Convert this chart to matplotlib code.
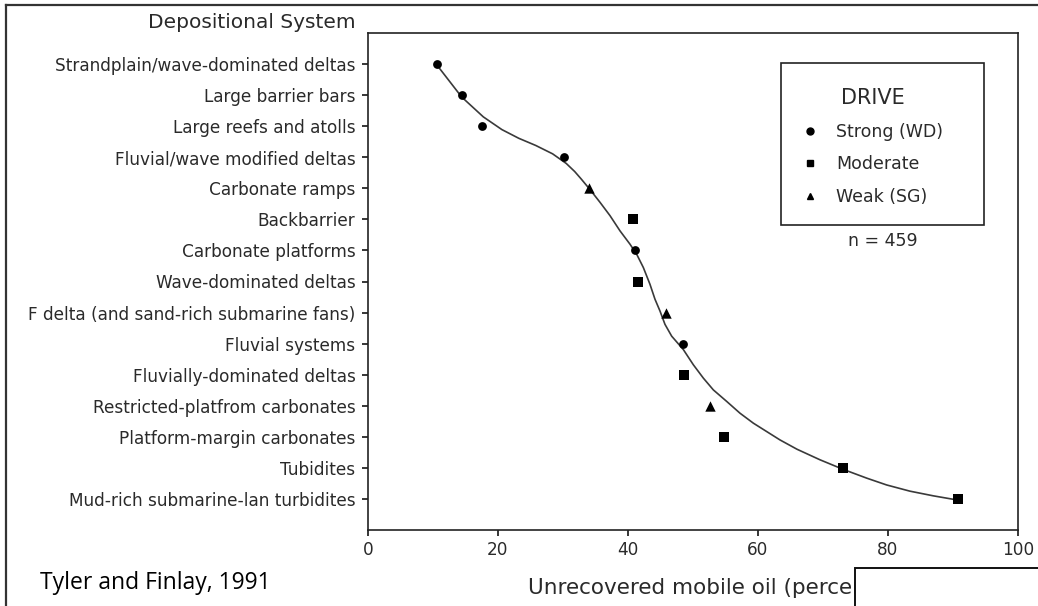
import matplotlib.pyplot as plt
from matplotlib.lines import Line2D
from matplotlib.patches import Rectangle

plt.rcParams['font.family'] = ['DejaVu Sans']

# Depositional systems, top to bottom
systems = ['Strandplain/wave-dominated deltas', 'Large barrier bars', 'Large reefs and atolls',
           'Fluvial/wave modified deltas', 'Carbonate ramps', 'Backbarrier',
           'Carbonate platforms', 'Wave-dominated deltas', 'F delta (and sand-rich submarine fans)',
           'Fluvial systems', 'Fluvially-dominated deltas', 'Restricted-platfrom carbonates',
           'Platform-margin carbonates', 'Tubidites', 'Mud-rich submarine-lan turbidites']
drive = ['Strong', 'Strong', 'Strong', 'Strong', 'Weak', 'Moderate', 'Strong', 'Moderate',
         'Weak', 'Strong', 'Moderate', 'Weak', 'Moderate', 'Moderate', 'Moderate']
unrecovered = [10.6, 14.4, 17.5, 30.1, 34.0, 40.7, 41.0, 41.5, 45.8, 48.5, 48.6, 52.6, 54.7, 73.1, 90.8]

# trend curve (x in percent, y in category index)
curve_x = [10.6, 14.41, 17.74, 20.6, 23.2, 25.8, 28.4, 30.5, 31.8, 32.8, 34.15, 35.69,
           37.23, 38.77, 40.31, 41.33, 42.36, 43.38, 44.15, 44.92, 45.69, 46.72, 48.51, 50.05,
           51.59, 53.13, 55.18, 57.23, 59.28, 61.33, 63.38, 66.0, 69.54, 73.13, 76.72, 79.79,
           83.38, 86.97, 90.82]
curve_y = [0.03, 1.06, 1.70, 2.11, 2.39, 2.62, 2.89, 3.2, 3.46, 3.70, 4.04, 4.45,
           4.88, 5.37, 5.80, 6.12, 6.55, 7.09, 7.57, 7.95, 8.38, 8.76, 9.19, 9.68,
           10.11, 10.49, 10.86, 11.24, 11.56, 11.83, 12.10, 12.40, 12.74, 13.05, 13.33, 13.55,
           13.75, 13.90, 14.04]

marker_style = {'Strong': ('o', 40, 'Strong (WD)'),
                'Moderate': ('s', 46, 'Moderate'),
                'Weak': ('^', 56, 'Weak (SG)')}

W, H = 1038, 606
fig = plt.figure(figsize=(W / 100, H / 100), dpi=100)
ax = fig.add_axes([368 / W, (H - 530) / H, 650 / W, 497 / H])

ypos = list(range(len(systems)))
ax.plot(curve_x, curve_y, color='#3a3a3a', lw=1.2, zorder=2)

handles = []
for key in ['Strong', 'Moderate', 'Weak']:
    xs = [x for x, d in zip(unrecovered, drive) if d == key]
    ys = [y for y, d in zip(ypos, drive) if d == key]
    m, s, lab = marker_style[key]
    ax.scatter(xs, ys, marker=m, s=s, color='black', zorder=3, linewidths=0)
    handles.append(Line2D([], [], ls='', marker=m, color='black', ms=5, label=lab))

ax.set_xlim(0, 100)
ax.set_ylim(15.0, -1)
ax.set_xticks([0, 20, 40, 60, 80, 100])
ax.set_yticks(ypos)
ax.set_yticklabels(systems)
ax.tick_params(axis='both', direction='out', length=4, width=1.1, labelsize=12.2,
               labelcolor='#2a2a2a')
ax.tick_params(axis='y', pad=5)
ax.tick_params(axis='x', pad=4)
for sp in ax.spines.values():
    sp.set_linewidth(1.2)
    sp.set_color('#222222')

# legend box
ax.add_patch(Rectangle((0.635, 0.614), 0.313, 0.326, transform=ax.transAxes,
                       fill=False, ec='#222222', lw=1.2, zorder=4))
leg = ax.legend(handles=handles, title='DRIVE', loc='upper left',
                bbox_to_anchor=(0.643, 0.921), frameon=False, fontsize=12.5,
                title_fontsize=15, handletextpad=1.0, labelspacing=0.85,
                handlelength=1.0)
for t in leg.get_texts():
    t.set_color('#2a2a2a')
leg.get_title().set_color('#2a2a2a')
ax.text(0.792, 0.581, 'n = 459', transform=ax.transAxes, ha='center', va='center',
        fontsize=12.5, color='#2a2a2a')

fig.text(356 / W, 1 - 22 / H, 'Depositional System', ha='right', va='center',
         fontsize=14.5, color='#2a2a2a')
fig.text(528 / W, 1 - 588 / H, 'Unrecovered mobile oil (percent)', ha='left', va='center',
         fontsize=15.5, color='#2a2a2a')
fig.text(40 / W, 1 - 583 / H, 'Tyler and Finlay, 1991', ha='left', va='center',
         fontsize=16.5, family='Open Sans', color='black')

# white box covering the end of the axis title, and the outer frame
fig.add_artist(Rectangle((855 / W, -0.05), 0.2, (606 - 568) / H + 0.05,
                         transform=fig.transFigure, fc='white', ec='#111111', lw=1.4,
                         zorder=10))
fig.add_artist(Line2D([6 / W, 6 / W], [0, 1 - 5 / H], color='#333333', lw=1.6))
fig.add_artist(Line2D([6 / W, 1], [1 - 5 / H, 1 - 5 / H], color='#333333', lw=1.6))

fig.savefig('out.png', dpi=100)
